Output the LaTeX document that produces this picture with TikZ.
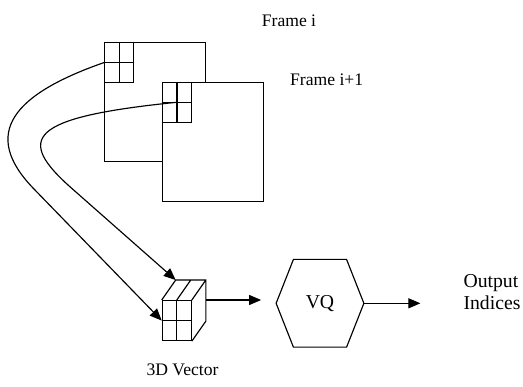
\documentclass[tikz,border=0pt]{standalone}
\usepackage{fontspec}
\setmainfont{Liberation Serif}
\usetikzlibrary{arrows.meta,calc}
\begin{document}
\begin{tikzpicture}[x=1pt,y=-1pt, line width=1.15pt,
 box/.style={draw, rectangle, inner sep=0pt, anchor=north west, line width=1.15pt},
 lbl/.style={inner sep=0pt, font=\rmfamily\fontsize{17.6}{21}\selectfont},
 big/.style={inner sep=0pt, font=\rmfamily\fontsize{19.7}{22.6}\selectfont},
 arr/.style={-{Triangle[length=12pt,width=10pt]}, line width=1.15pt}]
\useasboundingbox (0,0) rectangle (523,387);
% frame i
\node[box, minimum width=101.3pt, minimum height=118.4pt] (fi) at (104,42.3) {};
\node[box, minimum width=29pt, minimum height=39.4pt] (gi) at (104,42.3) {};
\draw (gi.north) -- (gi.south) (gi.west) -- (gi.east);
% frame i+1
\node[box, fill=white, minimum width=101pt, minimum height=119.3pt] (fj) at (161.7,81.7) {};
\node[box, minimum width=29.3pt, minimum height=40pt] (gj) at (161.7,81.7) {};
\draw (gj.north) -- (gj.south) (gj.west) -- (gj.east);
% cube
\node[box, minimum width=29pt, minimum height=40pt] (cube) at (161.7,300) {};
\draw (cube.north) -- (cube.south) (cube.west) -- (cube.east);
\coordinate (btl) at ($(cube.north west)+(14,-20)$);
\coordinate (btm) at ($(cube.north)+(14,-20)$);
\coordinate (btr) at ($(cube.north east)+(14,-20)$);
\coordinate (bbr) at ($(cube.south east)+(14,-20)$);
\draw (cube.north west) -- (btl) -- (btr) -- (bbr) -- (cube.south east)
      (cube.north) -- (btm) (cube.north east) -- (btr);
% VQ hexagon
\node[big, minimum width=86.6pt, minimum height=86.6pt] (vq) at (320,303.3) {VQ};
\draw (vq.west) -- ($(vq.north west)+(17.3,0)$) -- ($(vq.north east)+(-17.3,0)$)
      -- (vq.east) -- ($(vq.south east)+(-17.3,0)$) -- ($(vq.south west)+(17.3,0)$) -- cycle;
% output
\node[big, anchor=west, align=left] (out) at (463,292) {Output\\Indices};
% arrows
\draw[arr, shorten >=15pt] (btr |- cube.north) -- (vq.west |- cube.north);
\draw[arr, shorten >=42.6pt] (vq.east) -- (vq.east -| out.west);
\draw[arr] (gi.west) .. controls (14,94) and (-20,133) .. (33.3,188.3) -- (cube.west);
\draw[arr] (gj.center) .. controls (27,117.4) and (15.5,138.7) .. (71.7,188.3) -- (btl);
% labels
\node[lbl] (t1) at (289,20.7) {Frame i};
\node[lbl] (t2) at (326.7,80) {Frame i+1};
\node[lbl] (t3) at (182.5,370) {3D Vector};
\end{tikzpicture}
\end{document}
